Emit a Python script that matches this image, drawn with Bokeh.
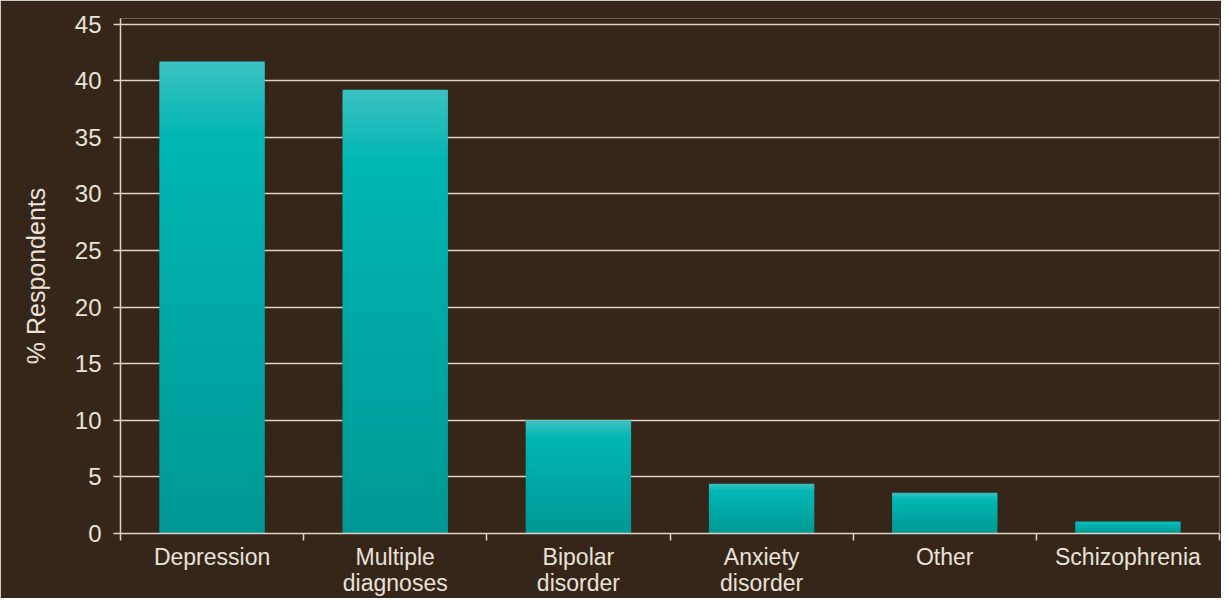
from bokeh.plotting import figure
from bokeh.models import Range1d, FixedTicker, ColumnDataSource
from bokeh.embed import file_html
from bokeh.resources import INLINE

categories = ["Depression", "Multiple\ndiagnoses", "Bipolar\ndisorder",
              "Anxiety\ndisorder", "Other", "Schizophrenia"]
values = [41.7, 39.2, 10.0, 4.4, 3.6, 1.05]
y_ticks = [0, 5, 10, 15, 20, 25, 30, 35, 40, 45]

BG = "#36261a"
TXT = "#e8e2d8"
GRID = "#ddd3c4"
FONT = "Liberation Sans"

p = figure(width=1221, height=598, output_backend="svg", toolbar_location=None,
           x_range=Range1d(0, len(categories)), y_range=Range1d(0, 45.5),
           background_fill_color=BG, border_fill_color=BG,
           min_border_left=120, min_border_right=2, min_border_top=18,
           min_border_bottom=64)
p.outline_line_color = None

# gradient bars built as slices of each bar's own height
stops = [(0.0, (60, 193, 193)), (0.16, (0, 182, 179)), (1.0, (0, 152, 148))]

def color_at(f):
    for (f0, c0), (f1, c1) in zip(stops[:-1], stops[1:]):
        if f0 <= f <= f1:
            t = (f - f0) / (f1 - f0) if f1 > f0 else 0
            return "#%02x%02x%02x" % tuple(int(round(a + (b - a) * t)) for a, b in zip(c0, c1))
    return "#%02x%02x%02x" % stops[-1][1]

xs, tops, bottoms, cols = [], [], [], []
for i, v in enumerate(values):
    n = max(4, int(v * 4))
    for k in range(n):
        f_top = k / n
        f_bot = (k + 1) / n
        xs.append(i + 0.5)
        tops.append(v * (1 - f_top))
        bottoms.append(max(0.0, v * (1 - f_bot) - 0.1))
        cols.append(color_at((f_top + f_bot) / 2))

src = ColumnDataSource(dict(x=xs, top=tops, bottom=bottoms, color=cols))
p.vbar(x="x", top="top", bottom="bottom", width=0.575, fill_color="color",
       line_color=None, source=src)

# grid
p.xgrid.grid_line_color = None
p.ygrid.grid_line_color = GRID
p.ygrid.grid_line_width = 1.5
p.ygrid.ticker = FixedTicker(ticks=y_ticks)

# y axis
p.yaxis.ticker = FixedTicker(ticks=y_ticks)
p.yaxis.axis_line_color = GRID
p.yaxis.axis_line_width = 1.5
p.yaxis.major_tick_line_color = GRID
p.yaxis.major_tick_line_width = 1.5
p.yaxis.major_tick_out = 7
p.yaxis.major_tick_in = 0
p.yaxis.minor_tick_line_color = None
p.yaxis.major_label_text_color = TXT
p.yaxis.major_label_text_font = FONT
p.yaxis.major_label_text_font_size = "24px"
p.yaxis.major_label_standoff = 12
p.yaxis.axis_label = "% Respondents"
p.yaxis.axis_label_text_color = TXT
p.yaxis.axis_label_text_font = FONT
p.yaxis.axis_label_text_font_size = "25px"
p.yaxis.axis_label_text_font_style = "normal"
p.yaxis.axis_label_standoff = 22

# x axis: labels at centres, ticks at boundaries (minor ticks)
centres = [i + 0.5 for i in range(len(categories))]
bounds = list(range(len(categories) + 1))
p.xaxis.ticker = FixedTicker(ticks=centres, minor_ticks=bounds)
p.xaxis.major_label_overrides = {c: lab for c, lab in zip(centres, categories)}
p.xaxis.axis_line_color = GRID
p.xaxis.axis_line_width = 1.5
p.xaxis.major_tick_line_color = None
p.xaxis.major_tick_out = 0
p.xaxis.major_tick_in = 0
p.xaxis.minor_tick_line_color = GRID
p.xaxis.minor_tick_line_width = 1.5
p.xaxis.minor_tick_out = 7
p.xaxis.minor_tick_in = 0
p.xaxis.major_label_text_color = TXT
p.xaxis.major_label_text_font = FONT
p.xaxis.major_label_text_font_size = "23px"
p.xaxis.major_label_text_line_height = 1.0
p.xaxis.major_label_standoff = 3

open("out.html", "w").write(file_html(p, INLINE))
